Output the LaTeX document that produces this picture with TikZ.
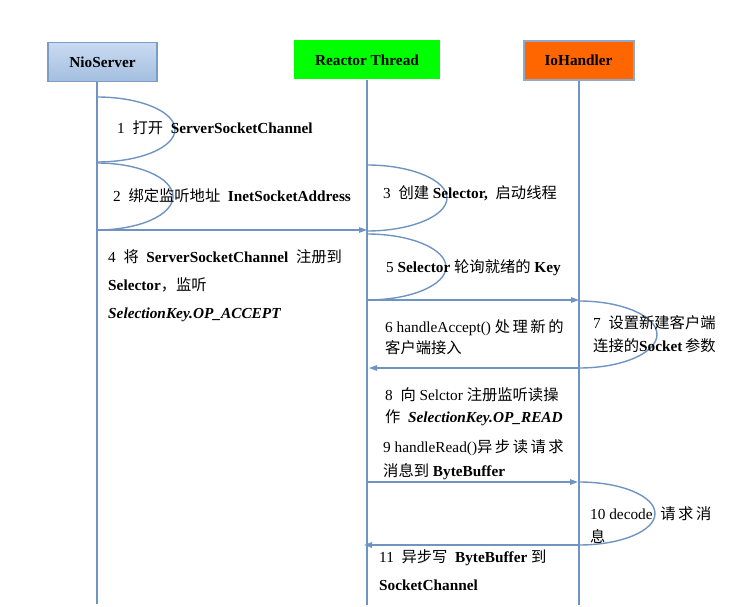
\documentclass[tikz,border=0pt]{standalone}
\usepackage{fontspec}
\setmainfont{Liberation Serif}
\newfontfamily\zhfont[Scale=1.0]{Noto Sans CJK SC}
\newcommand\zh[1]{{\zhfont #1}}
\usetikzlibrary{arrows.meta,calc}
\definecolor{lifeblue}{HTML}{7094C2}
\definecolor{niotop}{HTML}{C9DBF1}
\definecolor{niobot}{HTML}{A3BEDF}
\definecolor{nioborder}{HTML}{7D9CC3}
\definecolor{ioborder}{HTML}{8EA9CA}
\tikzset{
  lane/.style={draw=lifeblue, line width=1.4pt},
  msg/.style={draw=lifeblue, line width=1.4pt, -{Triangle[length=8pt,width=5.5pt]}},
  loopline/.style={draw=lifeblue, line width=1.4pt},
  txt/.style={anchor=base west, inner sep=0pt, font=\fontsize{15.3}{17}\selectfont},
  headbox/.style={minimum height=39pt, font=\fontsize{15.3}{17}\selectfont\bfseries, inner sep=0pt}
}
\begin{document}
\begin{tikzpicture}[x=1pt,y=-1pt]
\useasboundingbox (0,0) rectangle (733,607);
% heads
\node[headbox, minimum width=109pt, top color=niotop, bottom color=niobot, draw=nioborder, line width=1.5pt] (nio) at (102.5,62) {NioServer};
\node[headbox, minimum width=146pt, fill=green] (rea) at (367,60) {Reactor Thread};
\node[headbox, minimum width=110pt, fill={rgb,255:red,255;green,102;blue,0}, draw=ioborder, line width=2pt] (ioh) at (578.5,60.5) {IoHandler};
% lifeline ends
\coordinate (nioE) at (97,604);
\coordinate (reaE) at (367,605);
\coordinate (iohE) at (579,605);
\draw[lane] (nio.south -| nioE) -- (nioE);
\draw[lane] (rea.south -| reaE) -- (reaE);
\draw[lane] (ioh.south -| iohE) -- (iohE);
% loop points
\coordinate (l1a) at (97,97);   \coordinate (l1m) at (175,129.5); \coordinate (l1b) at (97,162);
\coordinate (l2a) at (97,163);  \coordinate (l2m) at (173,196.5); \coordinate (l2b) at (97,230);
\coordinate (l3a) at (367,165); \coordinate (l3m) at (447,198);   \coordinate (l3b) at (367,231);
\coordinate (l5a) at (367,234); \coordinate (l5m) at (446,267);   \coordinate (l5b) at (367,300);
\coordinate (l7a) at (579,301); \coordinate (l7m) at (657,334.5); \coordinate (l7b) at (579,368);
\coordinate (l10a) at (579,482);\coordinate (l10m) at (655,513.5);\coordinate (l10b) at (579,545);
\draw[loopline] (l1a) .. controls +(43,0) and +(0,-18) .. (l1m) .. controls +(0,18) and +(43,0) .. (l1b);
\draw[loopline] (l2a) .. controls +(42,0) and +(0,-18.5) .. (l2m) .. controls +(0,18.5) and +(42,0) .. (l2b);
\draw[loopline] (l3a) .. controls +(44,0) and +(0,-18) .. (l3m) .. controls +(0,18) and +(44,0) .. (l3b);
\draw[loopline] (l5a) .. controls +(44,0) and +(0,-18) .. (l5m) .. controls +(0,18) and +(44,0) .. (l5b);
\draw[loopline] (l7a) .. controls +(43,0) and +(0,-18.5) .. (l7m) .. controls +(0,18.5) and +(43,0) .. (l7b);
\draw[loopline] (l10a) .. controls +(42,0) and +(0,-17.5) .. (l10m) .. controls +(0,17.5) and +(42,0) .. (l10b);
% messages
\coordinate (m4a) at (97,230);  \coordinate (m4b) at (367,230);
\coordinate (m6a) at (367,300); \coordinate (m6b) at (579,300);
\coordinate (m7a) at (579,368); \coordinate (m7b) at (369,368);
\coordinate (m9a) at (367,482); \coordinate (m9b) at (578,482);
\coordinate (m11a) at (579,545);\coordinate (m11b) at (364,545);
\draw[msg] (m4a) -- (m4b);
\draw[msg] (m6a) -- (m6b);
\draw[msg] (m7a) -- (m7b);
\draw[msg] (m9a) -- (m9b);
\draw[msg] (m11a) -- (m11b);
% texts
\node[txt] (t1) at (117,134) {1\ \ \zh{打开}\ \ \textbf{ServerSocketChannel}};
\node[txt] (t2) at (113,201) {2\ \ \zh{绑定监听地址}\ \ \textbf{InetSocketAddress}};
\node[txt] (t3) at (383,198) {3\ \ \zh{创建} \textbf{Selector,}\ \ \zh{启动线程}};
\node[txt] (t4a) at (108,262) {4\ \ \zh{将}\ \ \textbf{ServerSocketChannel}\ \ \zh{注册到}};
\node[txt] (t4b) at (108,290) {\textbf{Selector}\zh{，监听}};
\node[txt] (t4c) at (108,318) {\textbf{\itshape SelectionKey.OP\_ACCEPT}};
\node[txt] (t5) at (386,272) {5 \textbf{Selector} \zh{轮询就绪的} \textbf{Key}};
\node[txt] (t6a) at (385,332) {6 handleAccept() \zh{处\,理\,新\,的}};
\node[txt] (t6b) at (385,353) {\zh{客户端接入}};
\node[txt] (t7a) at (593,328) {7\ \ \zh{设置新建客户端}};
\node[txt] (t7b) at (593,351) {\zh{连接的}\textbf{Socket}\,\zh{参数}};
\node[txt] (t8a) at (385,400) {8\ \ \zh{向} Selctor \zh{注册监听读操}};
\node[txt] (t8b) at (385,422) {\zh{作}\ \ \textbf{\itshape SelectionKey.OP\_READ}};
\node[txt] (t9a) at (383,452) {9 handleRead()\zh{异\,步\,读\,请\,求}};
\node[txt] (t9b) at (383,476) {\zh{消息到} \textbf{ByteBuffer}};
\node[txt] (t10a) at (590,519) {10 decode\ \ \zh{请\,求\,消}};
\node[txt] (t10b) at (590,542) {\zh{息}};
\node[txt] (t11a) at (379,562) {11\ \ \zh{异步写}\ \ \textbf{ByteBuffer} \zh{到}};
\node[txt] (t11b) at (379,590) {\textbf{SocketChannel}};
\end{tikzpicture}
\end{document}
